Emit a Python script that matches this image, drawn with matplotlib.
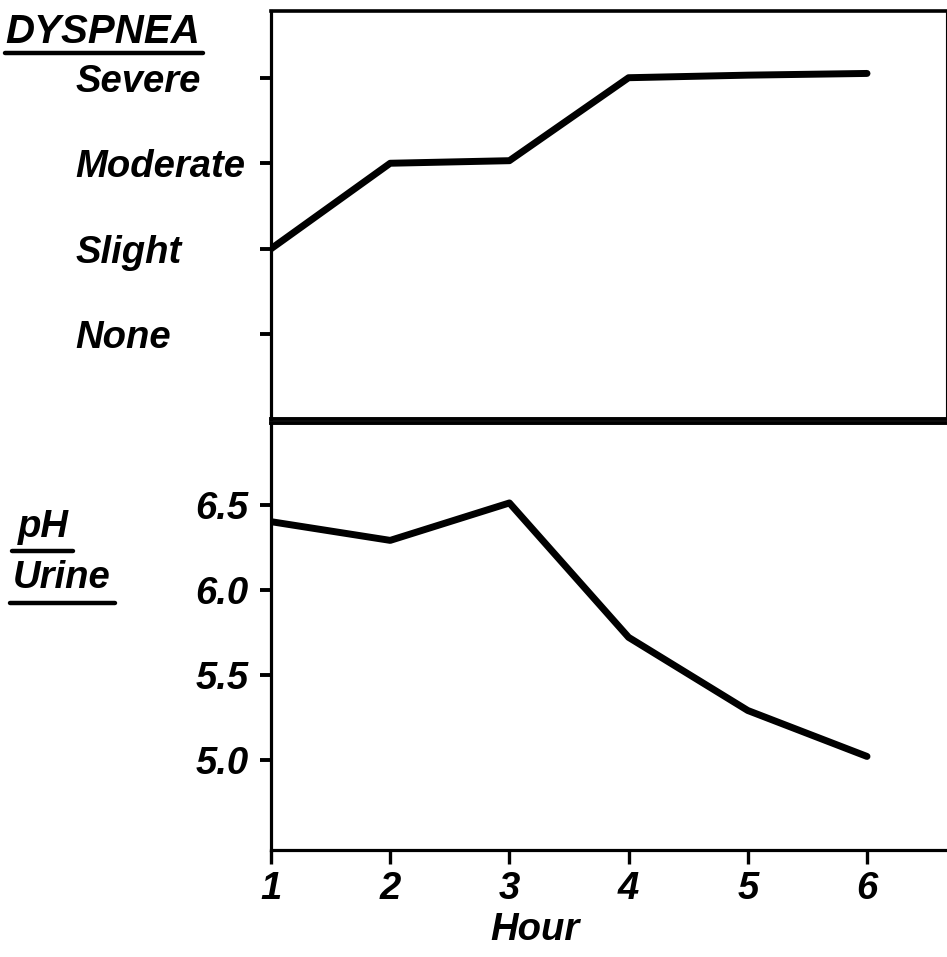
import matplotlib
matplotlib.use("Agg")
import matplotlib.pyplot as plt
from matplotlib.lines import Line2D

hours = [1, 2, 3, 4, 5, 6]
dyspnea = [1.0, 2.0, 2.03, 3.0, 3.03, 3.05]
dyspnea_levels = [0, 1, 2, 3]
dyspnea_labels = ["None", "Slight", "Moderate", "Severe"]
ph_urine = [6.40, 6.29, 6.51, 5.72, 5.29, 5.02]
ph_ticks = [5.0, 5.5, 6.0, 6.5]
ph_labels = ["5.0", "5.5", "6.0", "6.5"]

W, H = 947, 957
fig = plt.figure(figsize=(W / 100, H / 100), dpi=100)

font = dict(family="Liberation Sans", weight="bold", style="italic", size=27.5)
title_font = dict(font, size=29)

def fx(px):
    return px / W

def fy(py):
    return 1 - py / H

left = 271
right = 946
ax1 = fig.add_axes([fx(left), fy(419), fx(right - left), (419 - 11) / H])
ax2 = fig.add_axes([fx(left), fy(850), fx(right - left), (850 - 423) / H], sharex=ax1)

lw_spine = 2.3
for ax in (ax1, ax2):
    for s in ax.spines.values():
        s.set_linewidth(lw_spine)
        s.set_color("black")

ax1.spines["right"].set_linewidth(0.8)
ax2.spines["right"].set_visible(False)
ax1.spines["top"].set_linewidth(2.6)
ax1.spines["bottom"].set_linewidth(2.8)
ax2.spines["top"].set_linewidth(2.8)

ax1.plot(hours, dyspnea, color="black", lw=5, solid_capstyle="round", solid_joinstyle="round")
ax2.plot(hours, ph_urine, color="black", lw=5, solid_capstyle="round", solid_joinstyle="round")

xmax = 1 + (946 - 271) / 119.2
ax1.set_xlim(1, xmax)
ax1.set_ylim(-0.99, 3.78)
ax2.set_ylim(4.47, 6.98)

ax1.set_yticks(dyspnea_levels)
ax1.set_yticklabels(dyspnea_labels, fontdict=font)
ax1.tick_params(axis="y", direction="out", length=8, width=2.8, pad=133)
for t in ax1.get_yticklabels():
    t.set_horizontalalignment("left")
ax1.tick_params(axis="x", bottom=False, labelbottom=False)

ax2.set_yticks(ph_ticks)
ax2.set_yticklabels(ph_labels, fontdict=font)
ax2.tick_params(axis="y", direction="out", length=8, width=2.8, pad=8)

ax2.set_xticks(hours)
ax2.set_xticklabels([str(h) for h in hours], fontdict=font)
ax2.tick_params(axis="x", direction="out", length=10, width=2.4, pad=5)
ax2.set_xlabel("Hour", fontdict=font)
ax2.xaxis.set_label_coords((535 - 271) / (946 - 271), -0.145)

# Titles with underlines
fig.text(fx(5), fy(43), "DYSPNEA", ha="left", va="baseline", fontdict=title_font)
fig.add_artist(Line2D([fx(5), fx(203)], [fy(53), fy(53)], color="black", lw=3.2,
                      solid_capstyle="round", transform=fig.transFigure))
fig.text(fx(18), fy(537), "pH", ha="left", va="baseline", fontdict=font)
fig.add_artist(Line2D([fx(12), fx(73)], [fy(551), fy(551)], color="black", lw=3.2,
                      solid_capstyle="round", transform=fig.transFigure))
fig.text(fx(13), fy(588), "Urine", ha="left", va="baseline", fontdict=font)
fig.add_artist(Line2D([fx(10), fx(115)], [fy(603), fy(603)], color="black", lw=3.2,
                      solid_capstyle="round", transform=fig.transFigure))

fig.savefig("out.png", dpi=100)
